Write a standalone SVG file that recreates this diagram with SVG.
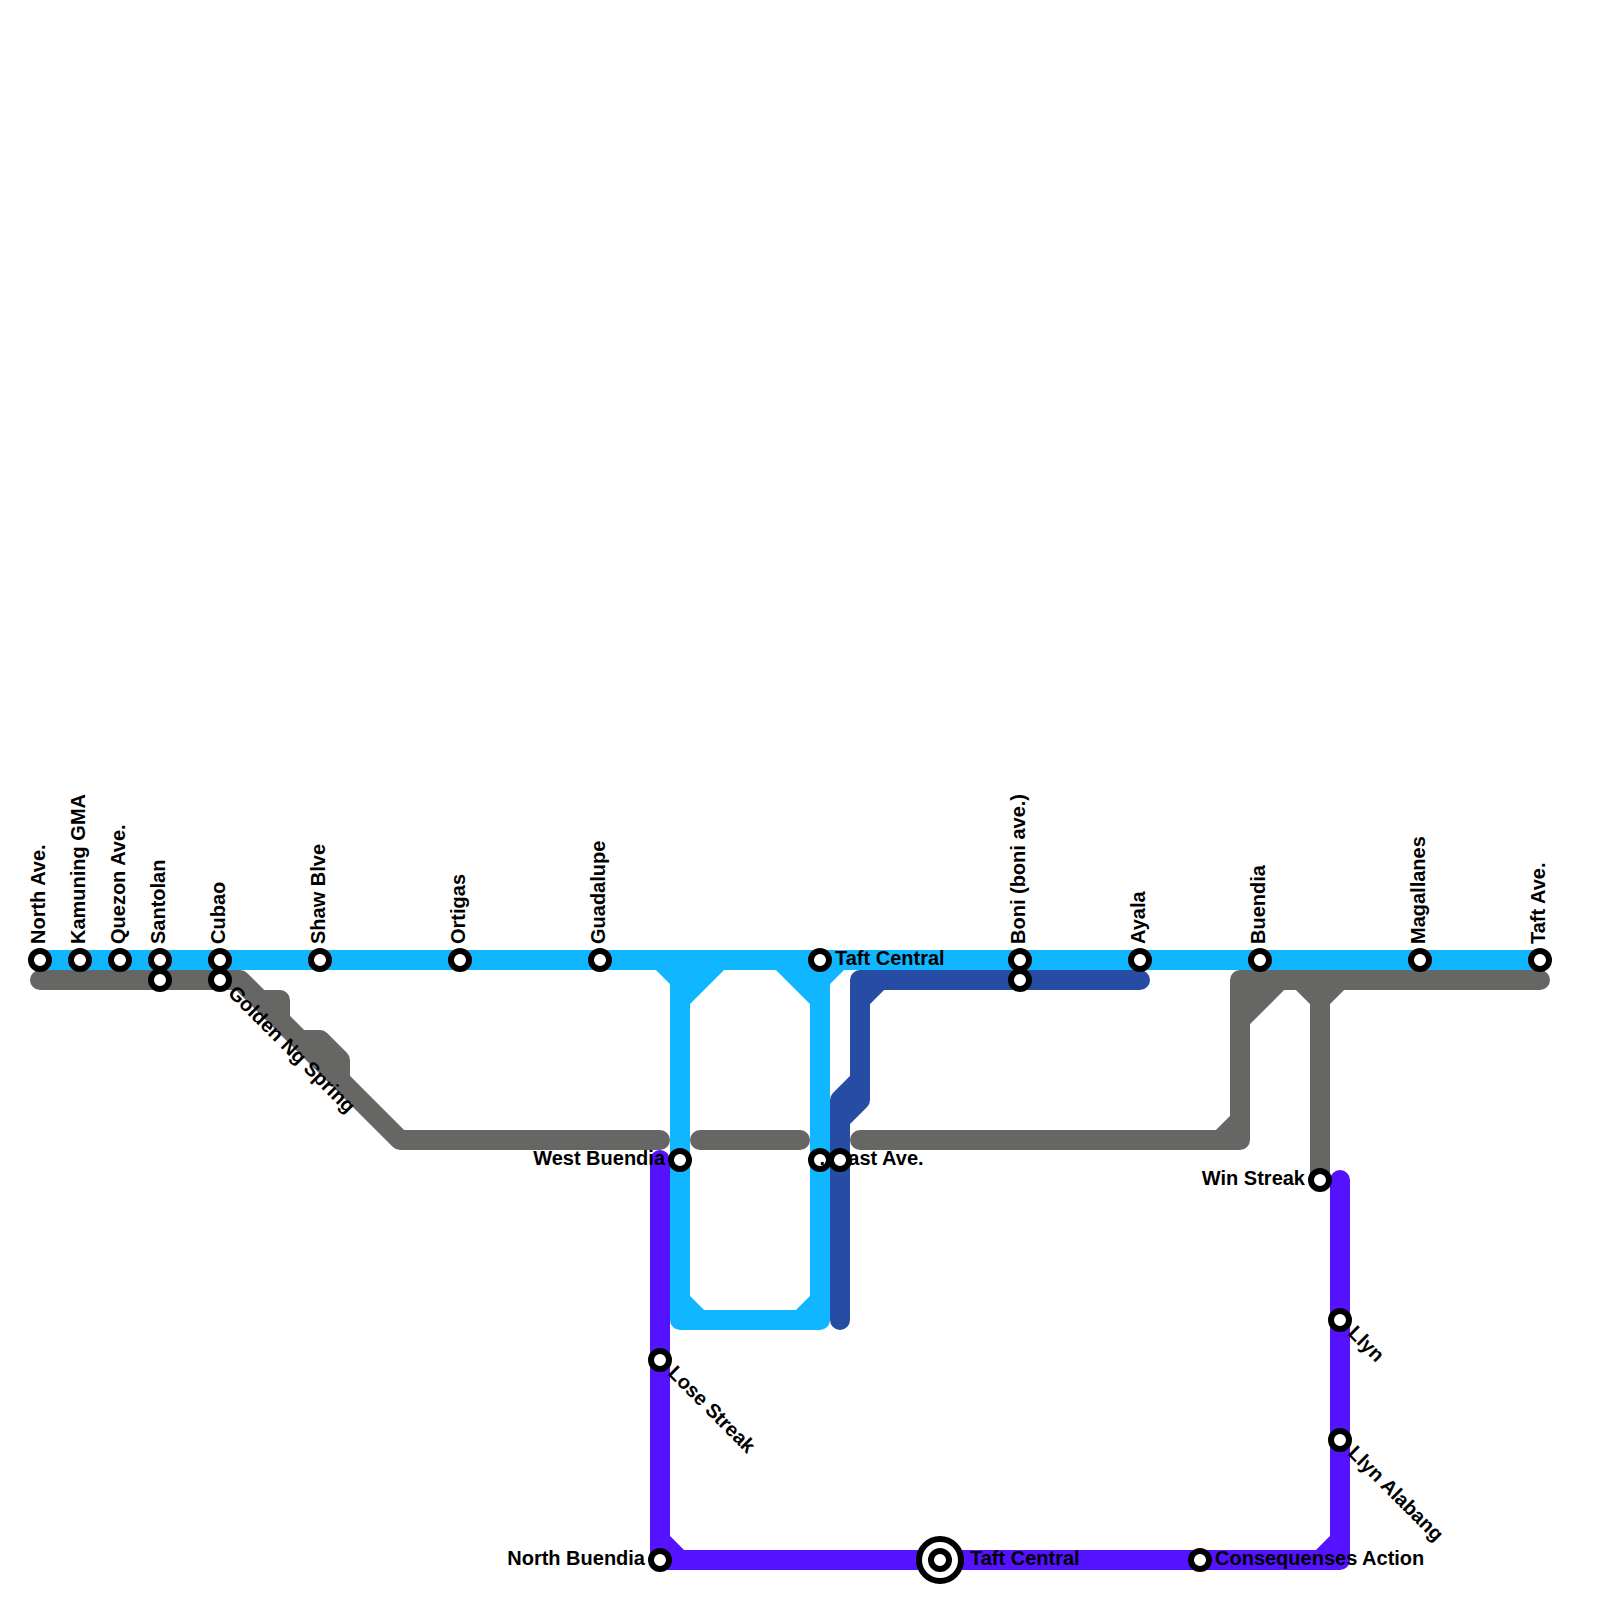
<svg xmlns="http://www.w3.org/2000/svg" width="1600" height="1600" viewBox="0 0 1600 1600">
<style>
.l{fill:none;stroke-width:20;stroke-linecap:round;stroke-linejoin:round}
.b{stroke:#10b6ff}.g{stroke:#666665}.d{stroke:#274ca3}.p{stroke:#5512ff}
.s{fill:#fff;stroke:#000;stroke-width:6}
text{font-family:"Liberation Sans",Arial,sans-serif;font-weight:bold;font-size:20px;fill:#000}
.e{text-anchor:end}
</style>
<rect width="1600" height="1600" fill="#fff"/>
<g id="connectors">
<path class="l g" d="M40 980H240L400 1140H660M700 1140H800M860 1140H1240V980H1540M1220 1140L1240 1120M1280 980L1240 1020M1260 980L1240 1000M1300 980L1320 1000V1180M1340 980L1320 1000M260 1000H280V1020M300 1040H320L340 1060V1080"/>
<path class="l d" d="M1140 980H860V1100L840 1120V1320M880 980L860 1000M860 1080L840 1100V1120"/>
<path class="l p" d="M660 1160V1560H1340V1180M660 1540L680 1560M1340 1540L1320 1560"/>
<path class="l b" d="M40 960H1540M660 960L680 980V1320H820V960M720 960L680 1000M700 960L680 980M780 960L820 1000M800 960L820 980M840 960L820 980M680 1300L700 1320M800 1320L820 1300"/>
</g>
<g id="n1"><circle class="s" cx="40" cy="960" r="9"/><text transform="translate(45 944) rotate(-90)">North Ave.</text></g>
<g id="n2"><circle class="s" cx="80" cy="960" r="9"/><text transform="translate(85 944) rotate(-90)">Kamuning GMA</text></g>
<g id="n3"><circle class="s" cx="120" cy="960" r="9"/><text transform="translate(125 944) rotate(-90)">Quezon Ave.</text></g>
<g id="n4"><circle class="s" cx="160" cy="960" r="9"/><text transform="translate(165 944) rotate(-90)">Santolan</text></g>
<g id="n5"><circle class="s" cx="160" cy="980" r="9"/></g>
<g id="n6"><circle class="s" cx="220" cy="960" r="9"/><text transform="translate(225 944) rotate(-90)">Cubao</text></g>
<g id="n7"><circle class="s" cx="220" cy="980" r="9"/><text transform="translate(227 994) rotate(45)">Golden Ng Spring</text></g>
<g id="n8"><circle class="s" cx="320" cy="960" r="9"/><text transform="translate(325 944) rotate(-90)">Shaw Blve</text></g>
<g id="n9"><circle class="s" cx="460" cy="960" r="9"/><text transform="translate(465 944) rotate(-90)">Ortigas</text></g>
<g id="n10"><circle class="s" cx="600" cy="960" r="9"/><text transform="translate(605 944) rotate(-90)">Guadalupe</text></g>
<g id="n11"><circle class="s" cx="820" cy="960" r="9"/><text x="835" y="965">Taft Central</text></g>
<g id="n12"><circle class="s" cx="1020" cy="960" r="9"/><text transform="translate(1025 944) rotate(-90)">Boni (boni ave.)</text></g>
<g id="n13"><circle class="s" cx="1020" cy="980" r="9"/></g>
<g id="n14"><circle class="s" cx="1140" cy="960" r="9"/><text transform="translate(1145 944) rotate(-90)">Ayala</text></g>
<g id="n15"><circle class="s" cx="1260" cy="960" r="9"/><text transform="translate(1265 944) rotate(-90)">Buendia</text></g>
<g id="n16"><circle class="s" cx="1420" cy="960" r="9"/><text transform="translate(1425 944) rotate(-90)">Magallanes</text></g>
<g id="n17"><circle class="s" cx="1540" cy="960" r="9"/><text transform="translate(1545 944) rotate(-90)">Taft Ave.</text></g>
<g id="n18"><circle class="s" cx="680" cy="1160" r="9"/><text class="e" x="665" y="1165">West Buendia</text></g>
<g id="n19"><circle class="s" cx="820" cy="1160" r="9"/><text x="835" y="1165">East Ave.</text></g>
<g id="n20"><circle class="s" cx="840" cy="1160" r="9"/><text class="e" x="825" y="1165">.</text></g>
<g id="n21"><circle class="s" cx="1320" cy="1180" r="9"/><text class="e" x="1305" y="1185">Win Streak</text></g>
<g id="n22"><circle class="s" cx="1340" cy="1320" r="9"/><text transform="translate(1347 1334) rotate(45)">Llyn</text></g>
<g id="n23"><circle class="s" cx="1340" cy="1440" r="9"/><text transform="translate(1347 1454) rotate(45)">Llyn Alabang</text></g>
<g id="n24"><circle class="s" cx="660" cy="1360" r="9"/><text transform="translate(667 1374) rotate(45)">Lose Streak</text></g>
<g id="n25"><circle class="s" cx="660" cy="1560" r="9"/><text class="e" x="645" y="1565">North Buendia</text></g>
<g id="n26"><circle class="s" cx="940" cy="1560" r="21"/><circle class="s" cx="940" cy="1560" r="9"/><text x="970" y="1565">Taft Central</text></g>
<g id="n27"><circle class="s" cx="1200" cy="1560" r="9"/><text x="1215" y="1565">Consequenses Action</text></g>
</svg>
